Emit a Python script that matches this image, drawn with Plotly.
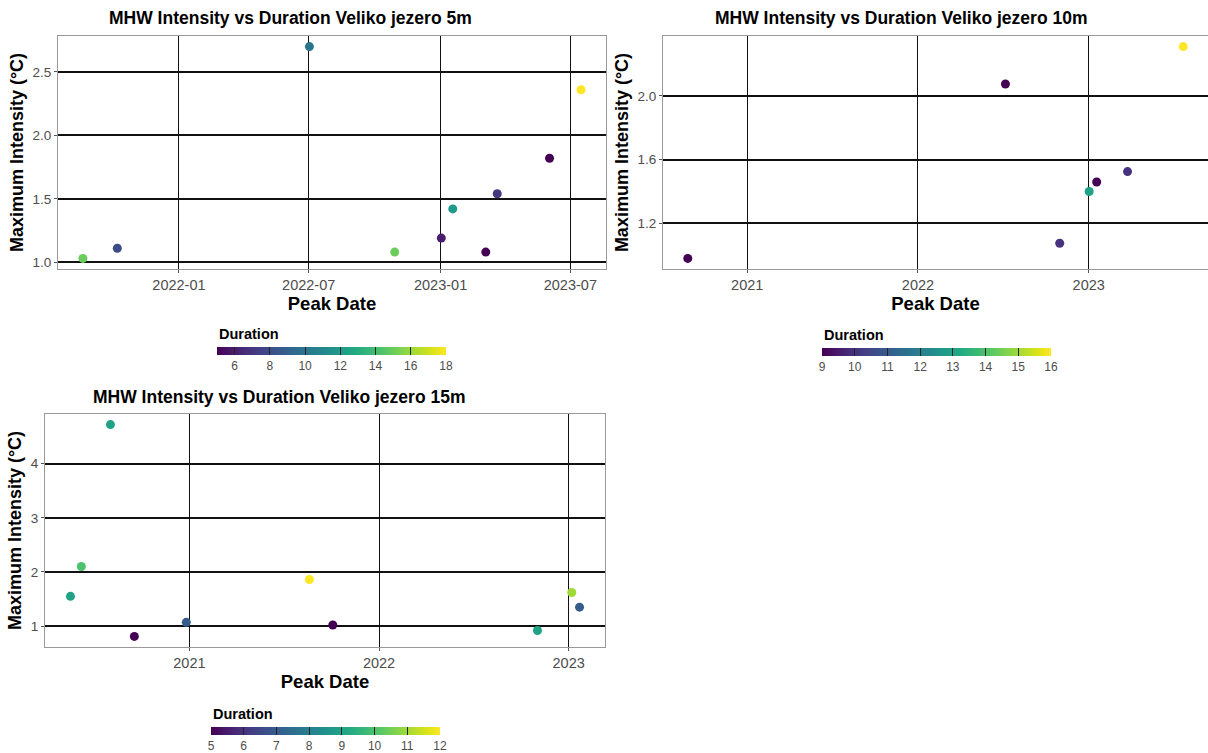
import pandas as pd
import plotly.graph_objects as go

# Veliko jezero marine heatwave events: peak date, max intensity (°C), duration (days)
dates_5m = ["2021-08-20", "2021-10-07", "2022-07-02", "2022-10-29", "2023-01-02",
            "2023-01-18", "2023-03-05", "2023-03-21", "2023-06-02", "2023-07-16"]
intensity_5m = [1.03, 1.11, 2.70, 1.08, 1.19, 1.42, 1.08, 1.54, 1.82, 2.36]
duration_5m = [15, 8, 10, 15, 6, 12, 5, 7, 5, 18]

dates_10m = ["2020-08-27", "2022-07-07", "2022-10-31", "2023-01-02", "2023-01-18",
             "2023-03-25", "2023-07-22"]
intensity_10m = [0.98, 2.075, 1.075, 1.40, 1.46, 1.525, 2.31]
duration_10m = [9, 9, 10, 13, 9, 10, 16]

dates_15m = ["2020-05-17", "2020-06-07", "2020-08-02", "2020-09-17", "2020-12-26",
             "2021-08-20", "2021-10-04", "2022-11-02", "2023-01-07", "2023-01-22"]
intensity_15m = [1.55, 2.10, 4.72, 0.81, 1.07, 1.86, 1.02, 0.92, 1.62, 1.35]
duration_15m = [9, 10, 9, 5, 7, 12, 5, 9, 11, 7]

depths = ["5m", "10m", "15m"]

FONT = "Arial, Liberation Sans, sans-serif"
W, H = 1208, 753

# viridis sampled finely so colours interpolate closely
VIRIDIS = ["#440154", "#48186a", "#472d7b", "#424086", "#3b528b", "#33638d",
           "#2c728e", "#26828e", "#21918c", "#1fa088", "#28ae80", "#3fbc73",
           "#5ec962", "#84d44b", "#addc30", "#d8e219", "#fde725"]
VIRIDIS_SCALE = [[k / (len(VIRIDIS) - 1), c] for k, c in enumerate(VIRIDIS)]


def expand(lo, hi, frac=0.05):
    pad = (hi - lo) * frac
    return lo - pad, hi + pad


def date_range(dates):
    d = pd.to_datetime(dates)
    lo, hi = expand(d.min(), d.max())
    return [lo.strftime("%Y-%m-%d %H:%M"), hi.strftime("%Y-%m-%d %H:%M")]


def num_range(vals):
    return list(expand(min(vals), max(vals)))


panels = [
    dict(dates=dates_5m, inten=intensity_5m, dur=duration_5m,
         xdom=[58 / W, 606 / W], ydom=[1 - 269 / H, 1 - 36 / H],
         dtick="M6", tick0="2022-01-01", xfmt="%Y-%m", ydtick=0.5, yfmt=".1f",
         cb_x=217, cb_y=347, cb_dtick=2, cb_tick0=6,
         title_x=290, title_y=18),
    dict(dates=dates_10m, inten=intensity_10m, dur=duration_10m,
         xdom=[663 / W, 1.0], ydom=[1 - 269 / H, 1 - 36 / H],
         dtick="M12", tick0="2021-01-01", xfmt="%Y", ydtick=0.4, yfmt=".1f",
         cb_x=822, cb_y=348, cb_dtick=1, cb_tick0=9,
         title_x=901, title_y=18),
    dict(dates=dates_15m, inten=intensity_15m, dur=duration_15m,
         xdom=[45 / W, 605 / W], ydom=[1 - 647 / H, 1 - 414 / H],
         dtick="M12", tick0="2021-01-01", xfmt="%Y", ydtick=1, yfmt="d",
         cb_x=211, cb_y=727, cb_dtick=1, cb_tick0=5,
         title_x=279, title_y=397),
]

fig = go.Figure()
layout = dict(
    width=W, height=H,
    margin=dict(l=0, r=0, t=0, b=0, autoexpand=False),
    paper_bgcolor="white", plot_bgcolor="white",
    showlegend=False,
    font=dict(family=FONT, color="black"),
    annotations=[],
)

for i, p in enumerate(panels):
    n = "" if i == 0 else str(i + 1)
    xa, ya, ca = "x" + n, "y" + n, "coloraxis" + n

    fig.add_trace(go.Scatter(
        x=p["dates"], y=p["inten"], mode="markers",
        xaxis=xa, yaxis=ya,
        marker=dict(size=9, color=p["dur"], coloraxis=ca, line=dict(width=0)),
        hovertemplate="%{x}<br>%{y:.2f} °C<br>Duration %{marker.color}<extra></extra>",
    ))

    axis_common = dict(
        showline=True, mirror=True, linecolor="#9a9a9a", linewidth=1,
        ticks="outside", ticklen=3, tickcolor="#555555", tickwidth=1,
        zeroline=False, showgrid=True, automargin=False,
    )
    layout["xaxis" + n] = dict(
        axis_common, domain=p["xdom"], anchor=ya, type="date",
        range=date_range(p["dates"]), dtick=p["dtick"], tick0=p["tick0"],
        tickformat=p["xfmt"], gridcolor="#111111", gridwidth=1.4,
        tickfont=dict(size=14.5, color="#4d4d4d", family=FONT),
        title=dict(text="<b>Peak Date</b>", font=dict(size=18.5, family=FONT), standoff=2),
    )
    layout["yaxis" + n] = dict(
        axis_common, domain=p["ydom"], anchor=xa,
        range=num_range(p["inten"]), dtick=p["ydtick"], tick0=0,
        tickformat=p["yfmt"], gridcolor="#111111", gridwidth=1.7,
        tickfont=dict(size=13.5, color="#4d4d4d", family=FONT),
        title=dict(text="<b>Maximum Intensity (°C)</b>", font=dict(size=18, family=FONT), standoff=4),
    )
    layout[ca] = dict(
        colorscale=VIRIDIS_SCALE,
        cmin=min(p["dur"]), cmax=max(p["dur"]),
        colorbar=dict(
            orientation="h",
            x=p["cb_x"] / W, xanchor="left",
            y=1 - p["cb_y"] / H, yanchor="top",
            lenmode="pixels", len=229, thickness=8,
            xpad=0, ypad=0, outlinewidth=0,
            ticks="inside", ticklen=8, tickcolor="#222222", tickwidth=1,
            dtick=p["cb_dtick"], tick0=p["cb_tick0"],
            tickfont=dict(size=12, color="#4d4d4d", family=FONT),
        ),
    )
    # colourbar heading, left-aligned above the bar
    layout["annotations"].append(dict(
        text="<b>Duration</b>",
        x=p["cb_x"] / W, y=1 - (p["cb_y"] - 13) / H, xref="paper", yref="paper",
        xanchor="left", yanchor="middle", showarrow=False,
        font=dict(size=14.5, family=FONT, color="black"),
    ))
    layout["annotations"].append(dict(
        text="<b>MHW Intensity vs Duration Veliko jezero %s</b>" % depths[i],
        x=p["title_x"] / W, y=1 - p["title_y"] / H, xref="paper", yref="paper",
        xanchor="center", yanchor="middle", showarrow=False,
        font=dict(size=17.5, family=FONT, color="black"),
    ))

fig.update_layout(**layout)
fig.write_html("out.html")
